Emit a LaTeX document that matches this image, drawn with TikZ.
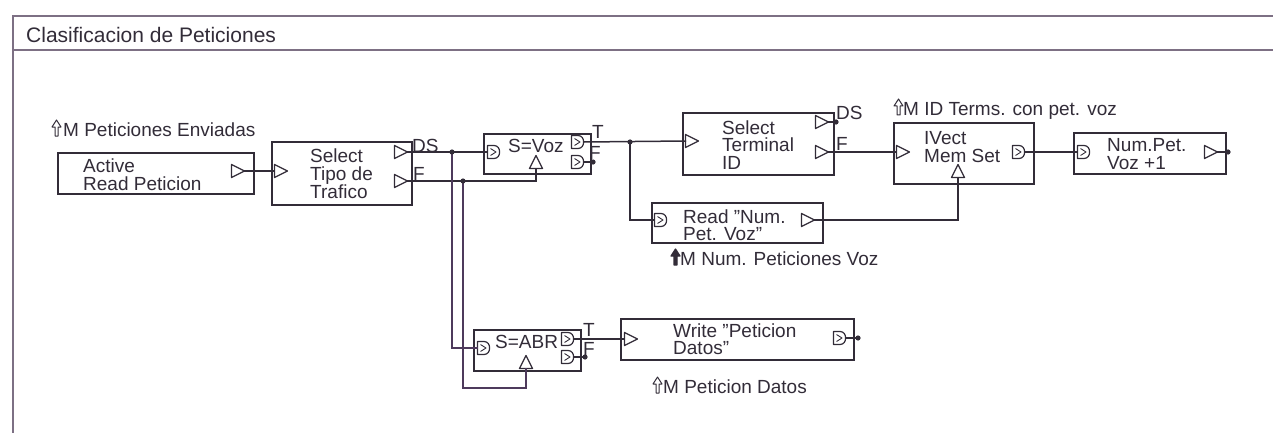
\documentclass[tikz,border=0pt]{standalone}
\usepackage{fontspec}
\setmainfont{Liberation Sans}
\definecolor{linec}{RGB}{50,44,56}
\definecolor{framec}{RGB}{125,112,132}
\definecolor{wirec}{RGB}{78,58,92}
\newcommand{\dq}{\char34\relax}
\tikzset{
  blk/.style={draw=linec, line width=1.6pt, rectangle, anchor=north west, inner sep=0pt},
  txt/.style={align=left, inner sep=0pt, anchor=west, text=linec, font=\fontsize{19}{17.5}\selectfont},
  lbl/.style={inner sep=0pt, anchor=base west, text=linec, font=\fontsize{19}{19}\selectfont},
  wire/.style={draw=linec, line width=1.5pt},
  port/.style={draw=linec, line width=1.2pt, line join=round},
  inp/.pic={\draw[port] (-6.5,-6.5) -- (6.5,0) -- (-6.5,6.5) -- cycle;},
  upt/.pic={\draw[port] (-6.5,6.5) -- (0,-6.5) -- (6.5,6.5) -- cycle;},
  dpt/.pic={\draw[port] (-6.5,-6.5) -- (0,-6.5) .. controls (7.5,-6.5) and (7.5,6.5) .. (0,6.5) -- (-6.5,6.5) -- cycle;
            \draw[port, line width=0.9pt] (-3.5,-3.5) -- (2,0) -- (-3.5,3.5);},
  memo/.pic={\draw[port, line width=1pt] (3,0) -- (3,-9) -- (0,-9) -- (4.5,-16) -- (9,-9) -- (6,-9) -- (6,0) -- cycle;},
  memf/.pic={\filldraw[port, fill=linec] (3,0) -- (3,-9) -- (0,-9) -- (4.5,-16) -- (9,-9) -- (6,-9) -- (6,0) -- cycle;}
}
\begin{document}
\begin{tikzpicture}[x=1pt, y=-1pt]
  \useasboundingbox (0,0) rectangle (1273,433);
  % frame
  \draw[framec, line width=1.6pt] (1273,16) -- (13,16) -- (13,433);
  \draw[framec, line width=1.3pt] (13,50) -- (1273,50);
  \node[lbl, font=\fontsize{21}{21}\selectfont] (title) at (26,43) {Clasificacion de Peticiones};

  % blocks
  \node[blk, minimum width=196pt, minimum height=41pt] (act) at (57,152) {};
  \node[txt] (act-txt) at (83,174.5) {Active\\Read Peticion};
  \node[blk, minimum width=140pt, minimum height=63pt] (sel) at (271,141) {};
  \node[txt] (sel-txt) at (310,174) {Select\\Tipo de\\Trafico};
  \node[blk, minimum width=107pt, minimum height=40pt] (svoz) at (483,133) {};
  \node[txt] (svoz-txt) at (508,146) {S=Voz};
  \node[blk, minimum width=151pt, minimum height=62pt] (stid) at (682,112) {};
  \node[txt] (stid-txt) at (722,145) {Select\\Terminal\\ID};
  \node[blk, minimum width=140pt, minimum height=61pt] (ivec) at (893,122) {};
  \node[txt] (ivec-txt) at (924,147) {IVect\\Mem Set};
  \node[blk, minimum width=152pt, minimum height=41pt] (num) at (1073,132) {};
  \node[txt] (num-txt) at (1107,154) {Num.Pet.\\Voz +1};
  \node[blk, minimum width=171pt, minimum height=40pt] (rd) at (651,202) {};
  \node[txt] (rd-txt) at (683,225) {Read \dq Num.\\Pet. Voz\dq};
  \node[blk, minimum width=107pt, minimum height=41pt] (sabr) at (473,329) {};
  \node[txt] (sabr-txt) at (495,342) {S=ABR};
  \node[blk, minimum width=233pt, minimum height=41pt] (wr) at (620,318) {};
  \node[txt] (wr-txt) at (673,339) {Write \dq Peticion\\Datos\dq};

  % memory labels
  \pic at (52,136) {memo};
  \node[lbl] (mem1) at (63,136) {M Peticiones Enviadas};
  \pic at (894,115) {memo};
  \node[lbl] (mem2) at (903,115) {M ID Terms. con pet. voz};
  \pic at (671,265) {memf};
  \node[lbl] (mem3) at (680,265) {M Num. Peticiones Voz};
  \pic at (653,393) {memo};
  \node[lbl] (mem4) at (663,393) {M Peticion Datos};

  % ports
  \pic at (238,171) {inp};
  \pic at (281,171) {inp};
  \pic at (401,152) {inp};
  \pic at (401,181) {inp};
  \pic at (494,152) {dpt};
  \pic at (536,162) {upt};
  \pic at (578,142) {dpt};
  \pic at (578,162) {dpt};
  \pic at (692,141) {inp};
  \pic at (822,122) {inp};
  \pic at (822,152) {inp};
  \pic at (903,152) {inp};
  \pic at (958,171) {upt};
  \pic at (1019,152) {dpt};
  \pic at (1084,152) {dpt};
  \pic at (1211,152) {inp};
  \pic at (661,220) {dpt};
  \pic at (808,220) {inp};
  \pic at (484,348) {dpt};
  \pic at (526,362) {upt};
  \pic at (568,339) {dpt};
  \pic at (568,357) {dpt};
  \pic at (631,339) {inp};
  \pic at (840,338) {dpt};

  % port points
  \coordinate (act-o) at (244,171);
  \coordinate (sel-i) at (275,171);
  \coordinate (sel-ds) at (407,152);
  \coordinate (sel-f) at (407,181);
  \coordinate (svoz-i) at (488,152);
  \coordinate (svoz-c) at (536,168);
  \coordinate (svoz-to) at (584,142);
  \coordinate (svoz-fo) at (584,162);
  \coordinate (svoz-fd) at (593,162);
  \coordinate (stid-i) at (686,141);
  \coordinate (stid-dso) at (828,122);
  \coordinate (stid-dsd) at (836,122);
  \coordinate (stid-f) at (828,152);
  \coordinate (ivec-i) at (897,152);
  \coordinate (ivec-o) at (1024,152);
  \coordinate (ivec-c) at (958,177);
  \coordinate (num-i) at (1078,152);
  \coordinate (num-o) at (1217,152);
  \coordinate (num-d) at (1228,152);
  \coordinate (rd-i) at (655,220);
  \coordinate (rd-o) at (814,220);
  \coordinate (sabr-i) at (478,348);
  \coordinate (sabr-c) at (526,368);
  \coordinate (sabr-to) at (573,339);
  \coordinate (sabr-fo) at (573,357);
  \coordinate (sabr-fd) at (585,357);
  \coordinate (wr-i) at (625,339);
  \coordinate (wr-o) at (845,338);
  \coordinate (wr-d) at (858,338);
  \coordinate (j1) at (452,152);
  \coordinate (j2) at (463,181);
  \coordinate (j3) at (630,142);

  % port names
  \node[lbl] (sel-dsl) at (412,152) {DS};
  \node[lbl] (sel-fl) at (413,180) {F};
  \node[lbl] (svoz-tl) at (592,139) {T};
  \node[lbl] (svoz-fl) at (589,159) {F};
  \node[lbl] (stid-dsl) at (836,120) {DS};
  \node[lbl] (stid-fl) at (836,150) {F};
  \node[lbl] (sabr-tl) at (583,336) {T};
  \node[lbl] (sabr-fl) at (583,355) {F};

  % wires
  \draw[wire] (act-o) -- (sel-i);
  \draw[wire] (sel-ds) -- (svoz-i);
  \draw[wire] (sel-f) -| (svoz-c);
  \draw[wire, draw=wirec] (j1) |- (sabr-i);
  \draw[wire, draw=wirec] (j2) -- ++(0,207) -| (sabr-c);
  \draw[wire] (svoz-to) -- (stid-i);
  \draw[wire] (svoz-fo) -- (svoz-fd);
  \draw[wire] (j3) |- (rd-i);
  \draw[wire] (stid-dso) -- (stid-dsd);
  \draw[wire] (stid-f) -- (ivec-i);
  \draw[wire] (ivec-o) -- (num-i);
  \draw[wire] (num-o) -- (num-d);
  \draw[wire] (rd-o) -| (ivec-c);
  \draw[wire] (sabr-to) -- (wr-i);
  \draw[wire] (sabr-fo) -- (sabr-fd);
  \draw[wire] (wr-o) -- (wr-d);

  % dots
  \foreach \p in {j1,j2,j3,svoz-fd,stid-dsd,num-d,sabr-fd,wr-d}
    \fill[linec] (\p) circle (2.6pt);
\end{tikzpicture}
\end{document}
